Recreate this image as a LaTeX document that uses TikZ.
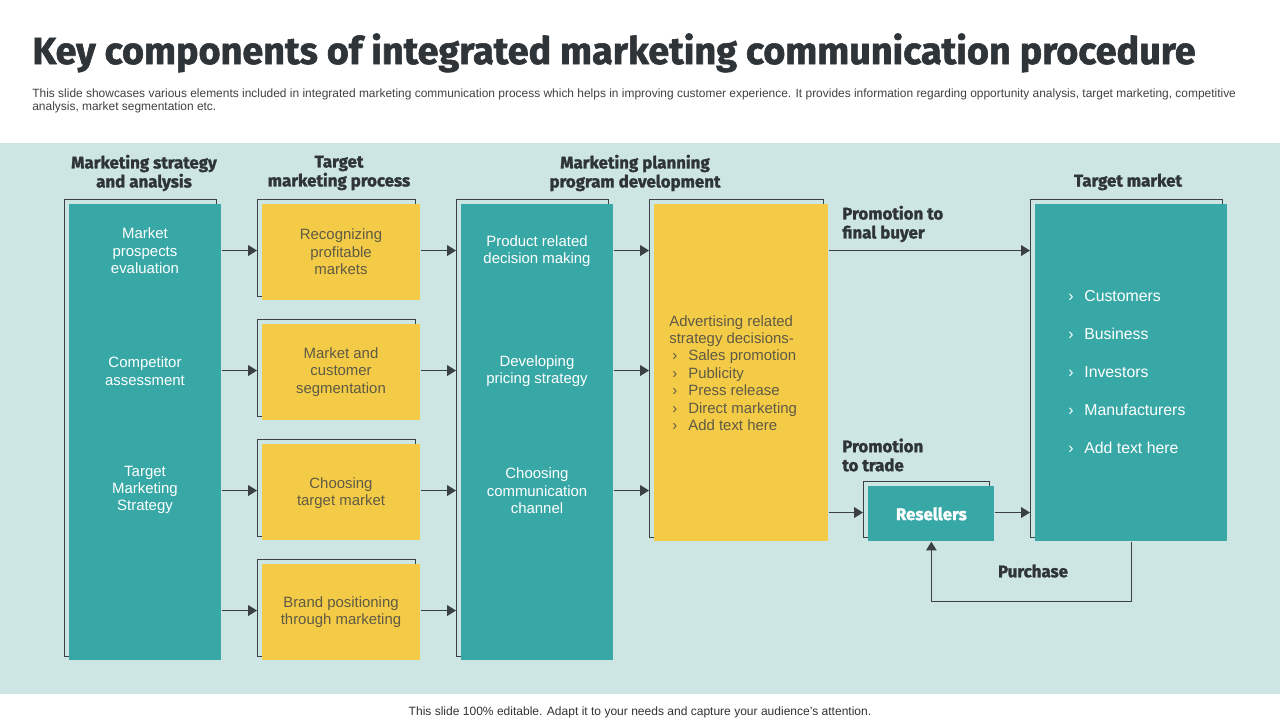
\documentclass[tikz,border=0pt]{standalone}
\usepackage{fontspec}
\setmainfont{Liberation Sans}
\newfontfamily\headfont{Fira Sans}[BoldFeatures={FakeBold=1.5}]
\usetikzlibrary{arrows.meta}
\definecolor{panelbg}{HTML}{CDE5E3}
\definecolor{tealbox}{HTML}{38A8A7}
\definecolor{yellowbox}{HTML}{F4CB47}
\definecolor{darkline}{HTML}{3A4046}
\definecolor{olivetext}{HTML}{5E5A45}
\definecolor{headtext}{HTML}{2E3438}
\tikzstyle{arrow} = [darkline,line width=0.7pt,-{Triangle[length=5pt,width=6pt]}]
\tikzstyle{frame} = [draw=darkline,line width=0.6pt,inner sep=0pt,anchor=north west]
\tikzstyle{tbox} = [fill=tealbox,inner sep=0pt,anchor=north west]
\tikzstyle{ybox} = [fill=yellowbox,inner sep=0pt,anchor=north west]
\tikzstyle{wtext} = [font=\fontsize{8.5}{9.9}\selectfont,align=center,text=white]
\tikzstyle{otext} = [font=\fontsize{8.5}{9.9}\selectfont,align=center,text=olivetext]
\tikzstyle{head} = [font=\headfont\bfseries\fontsize{9.6}{10.8}\selectfont,text=headtext,align=center]
\newcommand{\bul}{\makebox[10.8pt][l]{\hspace{1.7pt}›}}
\newcommand{\tbul}{\makebox[9.1pt][l]{›}}

\begin{document}
\begin{tikzpicture}[x=0.02cm,y=-0.02cm]
  % basics
  \useasboundingbox (0,0) rectangle (1280,720);
  \fill[white] (0,0) rectangle (1280,720);
  \fill[panelbg] (0,143) rectangle (1280,694);

  \node[anchor=base west,inner sep=0pt,font=\headfont\bfseries\fontsize{21.5}{24}\selectfont,text=headtext] (title) at (32,64) {Key components of integrated marketing communication procedure};
  \node[anchor=north west,inner sep=0pt,align=left,font=\fontsize{6.8}{7.9}\selectfont,text=black!75] (subtitle) at (32,88) {This slide showcases various elements included in integrated marketing communication process which helps in improving customer experience. It provides information regarding opportunity analysis, target marketing, competitive\\analysis, market segmentation etc.};
  \node[font=\fontsize{6.85}{8}\selectfont,text=black!80] (footer) at (640,712) {This slide 100\% editable. Adapt it to your needs and capture your audience’s attention.};

  % headings
  \node[head] (h1) at (144,173) {Marketing strategy\\and analysis};
  \node[head] (h2) at (339,173) {Target\\marketing process};
  \node[head] (h3) at (635,173) {Marketing planning\\program development};
  \node[head] (h4) at (1128,182) {Target market};

  % frames
  \node[frame,minimum width=3.04cm,minimum height=9.14cm] (msaf) at (64,199) {};
  \node[frame,minimum width=3.16cm,minimum height=1.94cm] (tm1f) at (257,199) {};
  \node[frame,minimum width=3.16cm,minimum height=1.94cm] (tm2f) at (257,319) {};
  \node[frame,minimum width=3.16cm,minimum height=1.94cm] (tm3f) at (257,439) {};
  \node[frame,minimum width=3.16cm,minimum height=1.94cm] (tm4f) at (257,559) {};
  \node[frame,minimum width=3.04cm,minimum height=9.14cm] (ppdf) at (456,199) {};
  \node[frame,minimum width=3.48cm,minimum height=6.76cm] (advf) at (649,199) {};
  \node[frame,minimum width=3.84cm,minimum height=6.76cm] (tgtf) at (1030,199) {};
  \node[frame,minimum width=2.52cm,minimum height=1.12cm] (resf) at (863,481) {};

  % boxes
  \node[tbox,minimum width=3.04cm,minimum height=9.12cm] (msa) at (69,204) {};
  \node[ybox,minimum width=3.16cm,minimum height=1.92cm] (tm1) at (262,204) {};
  \node[ybox,minimum width=3.16cm,minimum height=1.92cm] (tm2) at (262,324) {};
  \node[ybox,minimum width=3.16cm,minimum height=1.92cm] (tm3) at (262,444) {};
  \node[ybox,minimum width=3.16cm,minimum height=1.92cm] (tm4) at (262,564) {};
  \node[tbox,minimum width=3.04cm,minimum height=9.12cm] (ppd) at (461,204) {};
  \node[ybox,minimum width=3.48cm,minimum height=6.74cm] (adv) at (654,204) {};
  \node[tbox,minimum width=3.84cm,minimum height=6.74cm] (tgt) at (1035,204) {};
  \node[tbox,minimum width=2.52cm,minimum height=1.10cm] (res) at (868,486) {};

  % texts
  \node[wtext] (msa1) at (145,251) {Market\\prospects\\evaluation};
  \node[wtext] (msa2) at (145,371) {Competitor\\assessment};
  \node[wtext] (msa3) at (145,490) {Target\\Marketing\\Strategy};
  \node[otext] (tm1t) at (341,252) {Recognizing\\profitable\\markets};
  \node[otext] (tm2t) at (341,372) {Market and\\customer\\segmentation};
  \node[otext] (tm3t) at (341,493) {Choosing\\target market};
  \node[otext] (tm4t) at (341,612) {Brand positioning\\through marketing};
  \node[wtext] (ppd1) at (537,251) {Product related\\decision making};
  \node[wtext] (ppd2) at (537,371) {Developing\\pricing strategy};
  \node[wtext] (ppd3) at (537,491) {Choosing\\communication\\channel};
  \node[otext,align=left,anchor=west,inner sep=0pt] (advt) at (669,373) {Advertising related\\strategy decisions-\\\bul Sales promotion\\\bul Publicity\\\bul Press release\\\bul Direct marketing\\\bul Add text here};
  \node[text=white,align=left,anchor=west,inner sep=0pt,font=\fontsize{9}{21.7}\selectfont] (tgtt) at (1068,372) {\tbul Customers\\\tbul Business\\\tbul Investors\\\tbul Manufacturers\\\tbul Add text here};
  \node[font=\headfont\bfseries\fontsize{9.6}{10.8}\selectfont,text=white] (rest) at (res.center) {Resellers};
  \node[head,align=left,anchor=west,inner sep=0pt] (pfb) at (842,224) {Promotion to\\final buyer};
  \node[head,align=left,anchor=west,inner sep=0pt] (ptt) at (842,455) {Promotion\\to trade};
  \node[head] (pur) at (1033,571) {Purchase};

  % connectors
  \foreach \r in {1,...,4}{
    \draw[arrow] ([shift={(0,2.5)}]tm\r f.west -| msa.east) -- ([shift={(0,2.5)}]tm\r f.west);
    \draw[arrow] ([shift={(0,2.5)}]tm\r f.west -| tm\r.east) -- ([shift={(0,2.5)}]tm\r f.west -| ppdf.west);
  }
  \foreach \r in {1,...,3}{
    \draw[arrow] ([shift={(0,2.5)}]tm\r f.west -| ppd.east) -- ([shift={(0,2.5)}]tm\r f.west -| advf.west);
  }
  \draw[arrow] ([shift={(0,2.5)}]tm1f.west -| adv.east) -- ([shift={(0,2.5)}]tm1f.west -| tgtf.west);
  \draw[arrow] ([shift={(0,3)}]resf.west -| adv.east) -- ([shift={(0,3)}]resf.west);
  \draw[arrow] ([shift={(0,3)}]resf.west -| res.east) -- ([shift={(0,3)}]resf.west -| tgtf.west);
  \draw[arrow] (tgt.south) -- ++(0,60) -| (res.south);
\end{tikzpicture}
\end{document}
